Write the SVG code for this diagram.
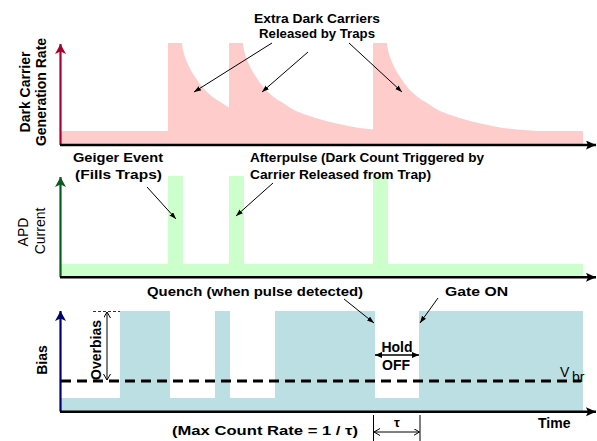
<svg xmlns="http://www.w3.org/2000/svg" width="597" height="441" viewBox="0 0 597 441">
  <style>
    .note { font-family: "Liberation Sans", Arial, sans-serif; font-size: 13px; font-weight: bold; fill: #000; }
    .axlab { font-family: "Liberation Sans", Arial, sans-serif; font-size: 14px; fill: #000; }
    .b { font-weight: bold; }
    .ann { stroke: #000; stroke-width: 1; fill: none; marker-end: url(#tip); }
    .xaxis { stroke: #000; stroke-width: 2.5; fill: none; marker-end: url(#axBlack); }
  </style>
  <defs>
    <marker id="tip" markerUnits="userSpaceOnUse" markerWidth="8" markerHeight="6" refX="7" refY="2.5" orient="auto">
      <path d="M0,0 L7,2.5 L0,5 z" fill="#000"/>
    </marker>
    <marker id="tipBoth" markerUnits="userSpaceOnUse" markerWidth="8" markerHeight="7" refX="7" refY="3" orient="auto-start-reverse">
      <path d="M0,0 L7,3 L0,6 z" fill="#000"/>
    </marker>
    <marker id="open" markerUnits="userSpaceOnUse" markerWidth="8" markerHeight="8" refX="6" refY="3.5" orient="auto-start-reverse">
      <path d="M0,0 L6,3.5 L0,7" fill="none" stroke="#000" stroke-width="1"/>
    </marker>
    <marker id="axBlack" markerUnits="userSpaceOnUse" markerWidth="11" markerHeight="10" refX="10" refY="4.5" orient="auto">
      <path d="M0,0 L10,4.5 L0,9 L2,4.5 z" fill="#000"/>
    </marker>
    <marker id="axRed" markerUnits="userSpaceOnUse" markerWidth="11" markerHeight="12" refX="10" refY="5.5" orient="auto">
      <path d="M0,0 L10,5.5 L0,11 L2.5,5.5 z" fill="#a8002a"/>
    </marker>
    <marker id="axGreen" markerUnits="userSpaceOnUse" markerWidth="11" markerHeight="12" refX="10" refY="5.5" orient="auto">
      <path d="M0,0 L10,5.5 L0,11 L2.5,5.5 z" fill="#0b5a1e"/>
    </marker>
    <marker id="axNavy" markerUnits="userSpaceOnUse" markerWidth="11" markerHeight="12" refX="10" refY="5.5" orient="auto">
      <path d="M0,0 L10,5.5 L0,11 L2.5,5.5 z" fill="#000070"/>
    </marker>
  </defs>

  <rect width="597" height="441" fill="#fff"/>

  <!-- Panel 1: dark carrier generation rate, with three trap-release decays -->
  <g id="rate-panel">
    <path fill="#ffcccc" d="M61,131 H168 V43 H182
      L182.3,46 L182.8,49 L183.5,52 L184.3,55 L185.3,58 L186.5,61 L187.8,64 L189.2,67 L190.8,70 L192.5,73 L194.5,76 L196.8,79.5 L199.5,83.5 L203,88 L207,92 L212,96.5 L217,100 L222,103 L228,107 L229,107.3
      V43 H243
      L243.3,46 L243.8,49 L244.5,52 L245.3,55 L246.3,58 L247.5,61 L248.8,64 L250.2,67 L251.8,70 L253.5,73 L255.5,76 L257.8,79.5 L260.5,83.5 L264,88 L268,92 L273,96.5 L278,100 L283,103 L289,107 L296,111 L305,114.5 L316,118 L328,121.5 L339,124 L356,127.5 L373,129.5
      V43 H387
      L387.3,46 L387.8,49 L388.5,52 L389.3,55 L390.3,58 L391.5,61 L392.8,64 L394.2,67 L395.8,70 L397.5,73 L399.5,76 L401.8,79.5 L404.5,83.5 L408,88 L412,92 L417,96.5 L422,100 L427,103 L433,107 L440,111 L449,114.5 L460,118 L472,121.5 L483,124 L500,127.5 L517,129.5 L537,131
      H583 V144 H61 Z"/>
    <line x1="60.5" y1="145" x2="60.5" y2="44" stroke="#a8002a" stroke-width="2.2" marker-end="url(#axRed)"/>
    <line class="xaxis" x1="60" y1="145" x2="596" y2="145"/>
    <text class="axlab b" transform="translate(30,92) rotate(-90)" text-anchor="middle">Dark Carrier</text>
    <text class="axlab b" transform="translate(45.5,92) rotate(-90)" text-anchor="middle">Generation Rate</text>
    <text class="note" x="254" y="23" textLength="126" lengthAdjust="spacingAndGlyphs">Extra Dark Carriers</text>
    <text class="note" x="259" y="37.5" textLength="116" lengthAdjust="spacingAndGlyphs">Released by Traps</text>
  </g>

  <!-- Panel 2: APD current -->
  <g id="current-panel">
    <path fill="#ccffcc" d="M61,264 H168 V176 H183 V264 H229 V176 H244 V264 H373 V176 H388 V264 H583 V277 H61 Z"/>
    <line x1="60.5" y1="277" x2="60.5" y2="177" stroke="#0b5a1e" stroke-width="2.2" marker-end="url(#axGreen)"/>
    <line class="xaxis" x1="60" y1="277.3" x2="596" y2="277.3"/>
    <text class="axlab" transform="translate(28,232) rotate(-90)" text-anchor="middle">APD</text>
    <text class="axlab" transform="translate(45,231) rotate(-90)" text-anchor="middle">Current</text>
    <text class="note" x="73" y="162" textLength="90" lengthAdjust="spacingAndGlyphs">Geiger Event</text>
    <text class="note" x="75" y="179" textLength="87" lengthAdjust="spacingAndGlyphs">(Fills Traps)</text>
    <text class="note" x="250" y="162" textLength="234" lengthAdjust="spacingAndGlyphs">Afterpulse (Dark Count Triggered by</text>
    <text class="note" x="250" y="179" textLength="181" lengthAdjust="spacingAndGlyphs">Carrier Released from Trap)</text>
  </g>

  <!-- Panel 3: bias with gating -->
  <g id="bias-panel">
    <path fill="#bbdfe3" d="M61,398 H120 V311 H170 V398 H215 V311 H230 V398 H275 V311 H375 V398 H419 V311 H583 V411 H61 Z"/>
    <line x1="61" y1="381" x2="581" y2="381" stroke="#000" stroke-width="3" stroke-dasharray="10 6"/>
    <line x1="60.5" y1="411.5" x2="60.5" y2="311" stroke="#000070" stroke-width="2.2" marker-end="url(#axNavy)"/>
    <line class="xaxis" x1="60" y1="411.7" x2="596" y2="411.7"/>
    <text class="axlab b" font-size="13" transform="translate(46.5,360) rotate(-90)" text-anchor="middle">Bias</text>
    <text class="note" x="147" y="296" textLength="216" lengthAdjust="spacingAndGlyphs">Quench (when pulse detected)</text>
    <text class="note" x="445" y="296" textLength="63" lengthAdjust="spacingAndGlyphs">Gate ON</text>
    <text class="axlab" x="560" y="377" font-size="16">V</text>
    <text class="axlab" x="572" y="382" font-size="11">br</text>
    <text class="axlab b" x="538" y="428">Time</text>
  </g>

  <!-- Overbias dimension -->
  <g id="overbias">
    <line x1="93" y1="311.5" x2="120" y2="311.5" stroke="#333" stroke-width="1" stroke-dasharray="3 2"/>
    <line x1="107" y1="312" x2="107" y2="380" stroke="#000" stroke-width="1" marker-start="url(#open)" marker-end="url(#open)"/>
    <text class="axlab b" font-size="13" transform="translate(100.5,350) rotate(-90)" text-anchor="middle">Overbias</text>
  </g>

  <!-- Hold-off window -->
  <g id="holdoff">
    <text class="axlab b" x="397" y="352" text-anchor="middle">Hold</text>
    <line x1="375" y1="355" x2="419" y2="355" stroke="#000" stroke-width="1.5" marker-start="url(#tipBoth)" marker-end="url(#tipBoth)"/>
    <text class="axlab b" x="396" y="370" text-anchor="middle">OFF</text>
  </g>

  <!-- Dead time tau -->
  <g id="tau">
    <line x1="373.5" y1="415" x2="373.5" y2="441" stroke="#000" stroke-width="1"/>
    <line x1="420" y1="415" x2="420" y2="441" stroke="#000" stroke-width="1"/>
    <line x1="374" y1="432" x2="419.5" y2="432" stroke="#000" stroke-width="1" marker-start="url(#open)" marker-end="url(#open)"/>
    <text class="note" x="397" y="427" font-size="12" text-anchor="middle">τ</text>
    <text class="note" x="172" y="435" textLength="186" lengthAdjust="spacingAndGlyphs">(Max Count Rate = 1 / τ)</text>
  </g>

  <!-- Annotation connectors -->
  <g id="connectors">
    <line class="ann" x1="272" y1="43" x2="194" y2="92"/>
    <line class="ann" x1="308" y1="52" x2="262" y2="92"/>
    <line class="ann" x1="349" y1="43" x2="402" y2="92"/>
    <line class="ann" x1="147" y1="187" x2="176" y2="219"/>
    <line class="ann" x1="273" y1="183" x2="236" y2="216"/>
    <line class="ann" x1="344" y1="299" x2="374" y2="323"/>
    <line class="ann" x1="438" y1="298" x2="420" y2="323"/>
  </g>
</svg>
